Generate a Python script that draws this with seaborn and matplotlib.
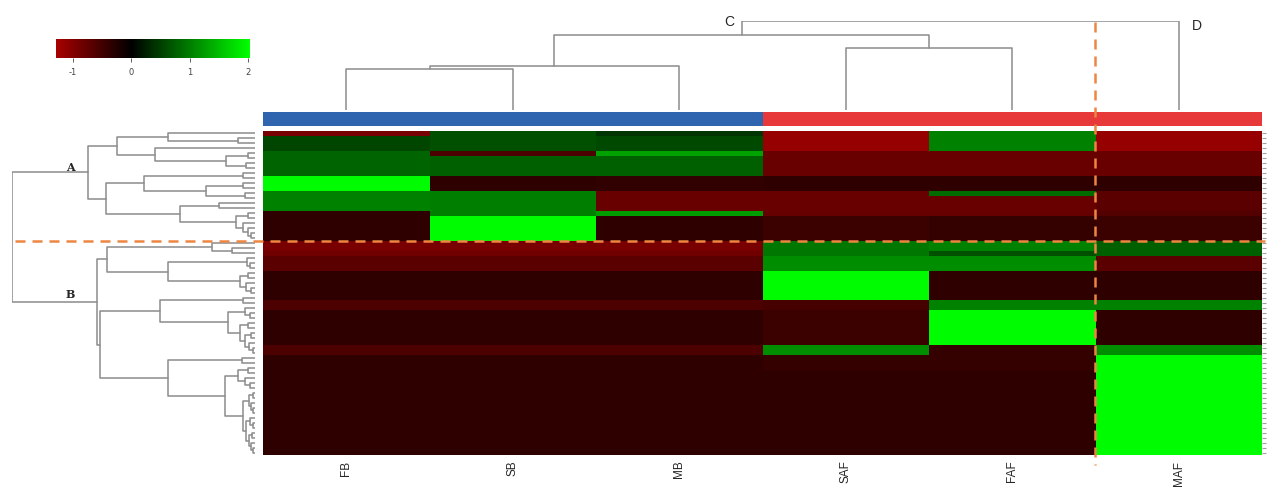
import numpy as np
import pandas as pd
import matplotlib
matplotlib.use("Agg")
import matplotlib.pyplot as plt
import seaborn as sns
from matplotlib.colors import LinearSegmentedColormap, ListedColormap
from matplotlib.lines import Line2D

# samples (columns) and their group (0 = blue, 1 = red)
samples = ["FB", "SB", "MB", "SAF", "FAF", "MAF"]
groups = [0, 0, 0, 1, 1, 1]

# rows come in blocks of identical colour, top to bottom (first 9 blocks = cluster A)
block_rows = [1, 3, 1, 4, 3, 1, 3, 1, 5, 2, 1, 3, 6, 2, 7, 2, 3, 17]
FB  = [-0.92, 0.55, 0.80, 0.80, 2.00, 1.03, 1.03, -0.35, -0.35, -0.92, -0.85, -0.69, -0.35, -0.58, -0.35, -0.58, -0.35, -0.35]
SB  = [0.64, 0.64, -0.58, 0.77, -0.35, 1.00, 1.00, 1.00, 2.00, -0.92, -0.85, -0.69, -0.35, -0.58, -0.35, -0.58, -0.35, -0.35]
MB  = [0.42, 0.58, 1.29, 0.77, -0.38, -0.81, -0.81, 1.25, -0.35, -0.92, -0.85, -0.69, -0.35, -0.58, -0.35, -0.58, -0.35, -0.35]
SAF = [-1.16, -1.16, -0.81, -0.81, -0.35, -0.81, -0.81, -0.78, -0.46, 0.95, 0.95, 1.12, 2.00, -0.55, -0.45, 1.12, -0.40, -0.35]
FAF = [1.03, 1.03, -0.81, -0.81, -0.35, 0.85, -0.81, -0.78, -0.40, 1.03, 0.64, 1.12, -0.35, 1.03, 2.00, -0.40, -0.40, -0.35]
MAF = [-1.16, -1.16, -0.81, -0.81, -0.35, -0.69, -0.69, -0.62, -0.46, 0.77, 0.77, -0.69, -0.35, 1.03, -0.35, 1.12, 2.00, 2.00]

# dendrograms: [merge height, left, right], 0 = leaf
row_tree = [1.0,
    [0.687,
        [0.568,
            [0.358, 0, [0.07, 0, 0]],
            [0.41, 0, [0.12, [0.03, 0, 0], [0.035, 0, 0]]]],
        [0.613,
            [0.457, [0.05, 0, 0], [0.2, [0.05, 0, 0], [0.04, 0, 0]]],
            [0.31, [0.15, 0, 0], [0.08, [0.03, 0, 0], [0.05, 0, [0.03, 0, [0.015, 0, 0]]]]]]],
    [0.65,
        [0.609,
            [0.177, 0, [0.095, 0, 0]],
            [0.358, [0.033, 0, [0.02, 0, 0]], [0.06, [0.03, 0, 0], [0.035, 0, [0.015, 0, 0]]]]],
        [0.638,
            [0.39, [0.05, 0, 0],
                [0.11, [0.04, 0, [0.02, 0, 0]],
                    [0.06, [0.03, 0, 0], [0.04, [0.015, 0, 0], [0.025, 0, [0.01, 0, 0]]]]]],
            [0.358, [0.053, 0, 0],
                [0.123, [0.07, [0.03, 0, 0], [0.04, 0, [0.02, 0, 0]]],
                    [0.05, [0.025, [0.01, 0, 0], [0.015, 0, [0.008, 0, 0]]],
                        [0.035, [0.02, 0, [0.01, 0, 0]],
                            [0.025, [0.012, 0, 0], [0.018, 0, [0.009, 0, 0]]]]]]]]]]
col_tree = [1.0, [0.843, [0.494, [0.46, 0, 0], 0], [0.697, 0, 0]], 0]

vmin, vmax = -1.29, 2.03

values = pd.DataFrame({
    "FB": np.repeat(FB, block_rows), "SB": np.repeat(SB, block_rows),
    "MB": np.repeat(MB, block_rows), "SAF": np.repeat(SAF, block_rows),
    "FAF": np.repeat(FAF, block_rows), "MAF": np.repeat(MAF, block_rows),
})[samples]
n_rows = len(values)


def walk(node, segs, counter):
    if not isinstance(node, list):
        pos = counter[0] + 0.5
        counter[0] += 1
        return pos, 0.0
    h, left, right = node
    p1, h1 = walk(left, segs, counter)
    p2, h2 = walk(right, segs, counter)
    segs.append(([p1, p1, p2, p2], [h1, h, h, h2]))
    return (p1 + p2) / 2, h


W, H = 1271, 488
sns.set_style("white")
plt.rcParams["axes.unicode_minus"] = False
fig = plt.figure(figsize=(W / 100, H / 100), dpi=100)


def box(x0, y0, x1, y1):
    return [x0 / W, 1 - y1 / H, (x1 - x0) / W, (y1 - y0) / H]


zero = -vmin / (vmax - vmin)
cmap = LinearSegmentedColormap.from_list(
    "rg", [(0, "#a80000"), (zero, "#000000"), (1, "#00ff00")])

ax = fig.add_axes(box(263, 131, 1262, 455))
cax = fig.add_axes(box(56, 39, 250, 58))
sns.heatmap(values, ax=ax, cmap=cmap, vmin=vmin, vmax=vmax, cbar_ax=cax,
            cbar_kws=dict(orientation="horizontal", ticks=[-1, 0, 1, 2]),
            xticklabels=samples, yticklabels=False)
ax.set_xticklabels(samples, rotation=90, fontsize=8.5, family="Liberation Sans")
ax.tick_params(axis="x", length=0, pad=4)
ax.set_yticks(np.arange(n_rows) + 0.5)
ax.yaxis.tick_right()
ax.tick_params(axis="y", length=3, width=0.8, color="#a0a0a0", labelright=False)
cax.tick_params(labelsize=6, length=3, width=0.6, pad=4, colors="#444444")
ax.collections[0].colorbar.outline.set_visible(False)

# column group strip
gax = fig.add_axes(box(263, 112, 1262, 126))
sns.heatmap(pd.DataFrame([groups], columns=samples), ax=gax,
            cmap=ListedColormap(["#2f64ae", "#e8393a"]), cbar=False,
            xticklabels=False, yticklabels=False)

line_kw = dict(color="#8c8c8c", lw=1.1)

# row dendrogram
rax = fig.add_axes(box(12, 131, 255, 455))
segs = []
walk(row_tree, segs, [0])
for ps, hs in segs:
    rax.plot(hs, ps, **line_kw)
rax.set_xlim(1.0, 0)
rax.set_ylim(n_rows, 0)
rax.axis("off")
rax.text(0.76, 7.4, "A", ha="center", va="center", fontsize=8,
         fontweight="bold", family="DejaVu Serif")
rax.text(0.76, 32.9, "B", ha="center", va="center", fontsize=8,
         fontweight="bold", family="DejaVu Serif")

# column dendrogram
tax = fig.add_axes(box(263, 21, 1262, 110))
segs = []
walk(col_tree, segs, [0])
for ps, hs in segs:
    tax.plot(ps, hs, **line_kw)
tax.set_xlim(0, len(samples))
tax.set_ylim(0, 1.0)
tax.axis("off")
tax.text(2.8, 0.99, "C", ha="center", va="center", fontsize=10,
         family="Liberation Sans", clip_on=False)
tax.text(5.61, 0.94, "D", ha="center", va="center", fontsize=10,
         family="Liberation Sans", clip_on=False)

# dashed cut lines
dash = dict(color="#ec8640", lw=1.8, linestyle=(0, (4, 2.8)), transform=fig.transFigure)
fig.add_artist(Line2D([15 / W, 1265 / W], [1 - 241 / H, 1 - 241 / H], **dash))
fig.add_artist(Line2D([1095 / W, 1095 / W], [1 - 22 / H, 1 - 465 / H], **dash))

fig.savefig("out.png", dpi=100)
